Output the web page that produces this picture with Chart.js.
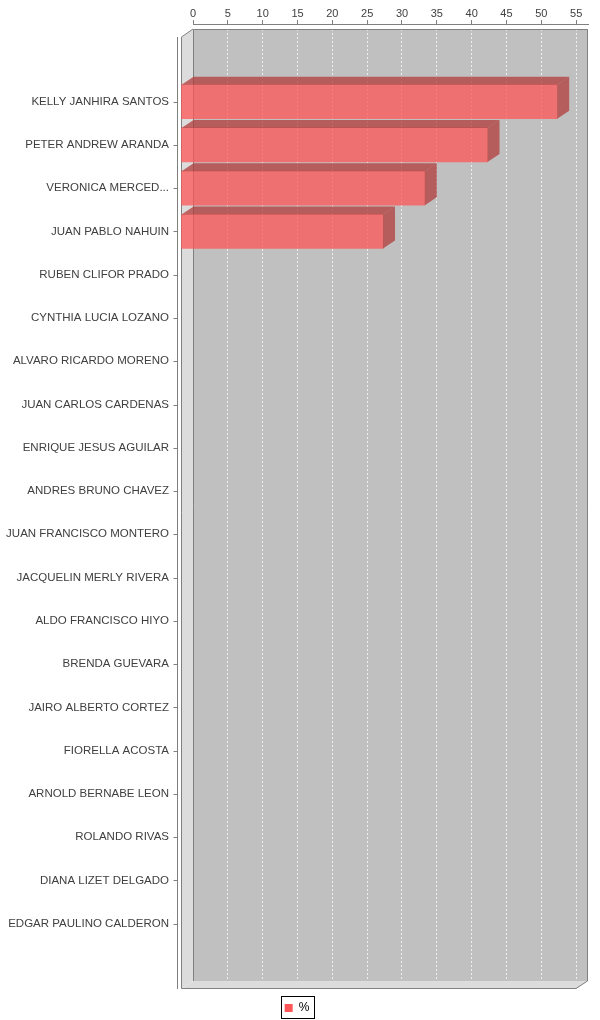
<!DOCTYPE html>
<html>
<head>
<meta charset="utf-8">
<script src="https://cdn.jsdelivr.net/npm/chart.js@4"></script>
<style>
    body { margin: 0; background: #fff; overflow: hidden; }
</style>
</head>
<body>
<canvas id="myChart" width="600" height="1020"></canvas>
<script>
// data
const names = [
    'KELLY JANHIRA SANTOS',
    'PETER ANDREW ARANDA',
    'VERONICA MERCED...',
    'JUAN PABLO NAHUIN',
    'RUBEN CLIFOR PRADO',
    'CYNTHIA LUCIA LOZANO',
    'ALVARO RICARDO MORENO',
    'JUAN CARLOS CARDENAS',
    'ENRIQUE JESUS AGUILAR',
    'ANDRES BRUNO CHAVEZ',
    'JUAN FRANCISCO MONTERO',
    'JACQUELIN MERLY RIVERA',
    'ALDO FRANCISCO HIYO',
    'BRENDA GUEVARA',
    'JAIRO ALBERTO CORTEZ',
    'FIORELLA ACOSTA',
    'ARNOLD BERNABE LEON',
    'ROLANDO RIVAS',
    'DIANA LIZET DELGADO',
    'EDGAR PAULINO CALDERON'
]
const values = [54, 44, 35, 29, 0, 0, 0, 0, 0, 0, 0, 0, 0, 0, 0, 0, 0, 0, 0, 0]
const seriesName = '%'
const xTickStep = 5
const xMax = 56.7

// 3d look (jfreechart style)
const DX = 12
const DY = 8
const GAP = 5

const font = 'Liberation Sans, Arial, sans-serif'

const threeD = {
    id: 'threeD',
    beforeDraw(chart) {
        const ctx = chart.ctx
        const a = chart.chartArea
        const top = a.top + GAP
        ctx.save()
        ctx.fillStyle = '#c0c0c0'
        ctx.fillRect(a.left, top, a.right - a.left, a.bottom - top)
        ctx.fillStyle = '#dcdcdc'
        // left wall
        ctx.beginPath()
        ctx.moveTo(a.left - DX, top + DY)
        ctx.lineTo(a.left, top)
        ctx.lineTo(a.left, a.bottom)
        ctx.lineTo(a.left - DX, a.bottom + DY)
        ctx.closePath()
        ctx.fill()
        // floor
        ctx.beginPath()
        ctx.moveTo(a.left - DX, a.bottom + DY)
        ctx.lineTo(a.left, a.bottom)
        ctx.lineTo(a.right, a.bottom)
        ctx.lineTo(a.right - DX, a.bottom + DY)
        ctx.closePath()
        ctx.fill()
        ctx.restore()
    },
    beforeDatasetsDraw(chart) {
        const ctx = chart.ctx
        const a = chart.chartArea
        const top = a.top + GAP
        ctx.save()
        // keep the gap between axis and back wall white
        ctx.fillStyle = '#fff'
        ctx.fillRect(a.left, a.top + 1, a.right - a.left, GAP - 1)
        ctx.strokeStyle = '#808080'
        ctx.lineWidth = 1
        ctx.beginPath()
        ctx.moveTo(a.left + 0.5, a.bottom)
        ctx.lineTo(a.left + 0.5, top + 0.5)
        ctx.lineTo(a.right - 0.5, top + 0.5)
        ctx.lineTo(a.right - 0.5, a.bottom)
        ctx.lineTo(a.right - DX, a.bottom + DY - 0.5)
        ctx.lineTo(a.left - DX + 0.5, a.bottom + DY - 0.5)
        ctx.lineTo(a.left - DX + 0.5, top + DY)
        ctx.lineTo(a.left, top)
        ctx.stroke()
        // category axis line + tick marks
        const ax = a.left - DX - 3.5
        ctx.beginPath()
        ctx.moveTo(ax, top + DY)
        ctx.lineTo(ax, a.bottom + DY)
        const ys = chart.scales.y
        names.forEach((n, i) => {
            const py = Math.round(ys.getPixelForValue(i) + DY) + 0.5
            ctx.moveTo(ax - 4, py)
            ctx.lineTo(ax, py)
        })
        ctx.stroke()
        ctx.restore()
        // bars front faces are drawn shifted to the front plane
        ctx.save()
        ctx.translate(-DX, DY)
    },
    afterDatasetsDraw(chart) {
        const ctx = chart.ctx
        ctx.restore()
        const meta = chart.getDatasetMeta(0)
        ctx.save()
        ctx.fillStyle = 'rgba(178,59,59,0.75)'
        meta.data.forEach((bar, i) => {
            if (!values[i]) return
            const p = bar.getProps(['x', 'y', 'base', 'height'], true)
            const t = p.y - p.height / 2
            const b = p.y + p.height / 2
            // top face
            ctx.beginPath()
            ctx.moveTo(p.base - DX, t + DY)
            ctx.lineTo(p.base, t)
            ctx.lineTo(p.x, t)
            ctx.lineTo(p.x - DX, t + DY)
            ctx.closePath()
            ctx.fill()
            // side face
            ctx.beginPath()
            ctx.moveTo(p.x - DX, t + DY)
            ctx.lineTo(p.x, t)
            ctx.lineTo(p.x, b)
            ctx.lineTo(p.x - DX, b + DY)
            ctx.closePath()
            ctx.fill()
        })
        ctx.restore()
    },
    afterDraw(chart) {
        const lg = chart.legend
        if (!lg || !lg.legendHitBoxes.length) return
        const hb = lg.legendHitBoxes[0]
        const ctx = chart.ctx
        ctx.save()
        ctx.strokeStyle = '#000'
        ctx.lineWidth = 1
        ctx.strokeRect(Math.round(hb.left) - 3.5, Math.round(hb.top) - 5.5, Math.round(hb.width) + 8, Math.round(hb.height) + 10)
        ctx.restore()
    }
}

const data = {
    datasets: [{
        label: seriesName,
        data: values.map((v, i) => ({ x: v, y: i })),
        backgroundColor: (c) => (c.raw && c.raw.x ? 'rgba(255,85,85,0.75)' : 'rgba(0,0,0,0)'),
        borderWidth: 0,
        barThickness: 34,
        clip: false
    }]
}

const config = {
    type: 'bar',
    data: data,
    options: {
        indexAxis: 'y',
        responsive: false,
        animation: false,
        layout: {
            padding: { left: 6, right: 12, top: 0, bottom: -4 }
        },
        scales: {
            x: {
                type: 'linear',
                position: 'top',
                min: 0,
                max: xMax,
                afterFit(s) {
                    s.height = 24
                    s.paddingLeft = 0
                    s.paddingRight = 0
                },
                ticks: {
                    stepSize: xTickStep,
                    includeBounds: false,
                    padding: -1,
                    color: '#404040',
                    font: { family: font, size: 11 }
                },
                grid: {
                    color: 'rgba(255,255,255,0.75)',
                    tickColor: '#808080',
                    tickLength: 4
                },
                border: { color: '#808080', dash: [2, 2] }
            },
            y: {
                type: 'linear',
                reverse: true,
                offset: false,
                min: -1.61,
                max: 20.51,
                afterFit(s) {
                    s.width = 187
                    s.paddingTop = 0
                    s.paddingBottom = 0
                },
                ticks: {
                    stepSize: 1,
                    includeBounds: false,
                    autoSkip: false,
                    labelOffset: DY,
                    padding: 0,
                    color: '#404040',
                    font: { family: font, size: 11.5 },
                    callback: (v) => names[v] || ''
                },
                grid: {
                    offset: false,
                    drawOnChartArea: false,
                    drawTicks: true,
                    tickLength: 24,
                    color: 'rgba(0,0,0,0)'
                },
                border: { display: false }
            }
        },
        plugins: {
            tooltip: { enabled: false },
            legend: {
                position: 'bottom',
                labels: {
                    boxWidth: 8,
                    boxHeight: 8,
                    padding: 21,
                    color: '#000',
                    font: { family: font, size: 12 },
                    generateLabels(chart) {
                        const items = Chart.defaults.plugins.legend.labels.generateLabels(chart)
                        items.forEach((it) => {
                            it.fillStyle = '#ff5555'
                            it.strokeStyle = '#ff5555'
                            it.lineWidth = 0
                        })
                        return items
                    }
                }
            }
        }
    },
    plugins: [threeD]
}

const myChart = new Chart(document.getElementById('myChart'), config)
</script>
</body>
</html>
